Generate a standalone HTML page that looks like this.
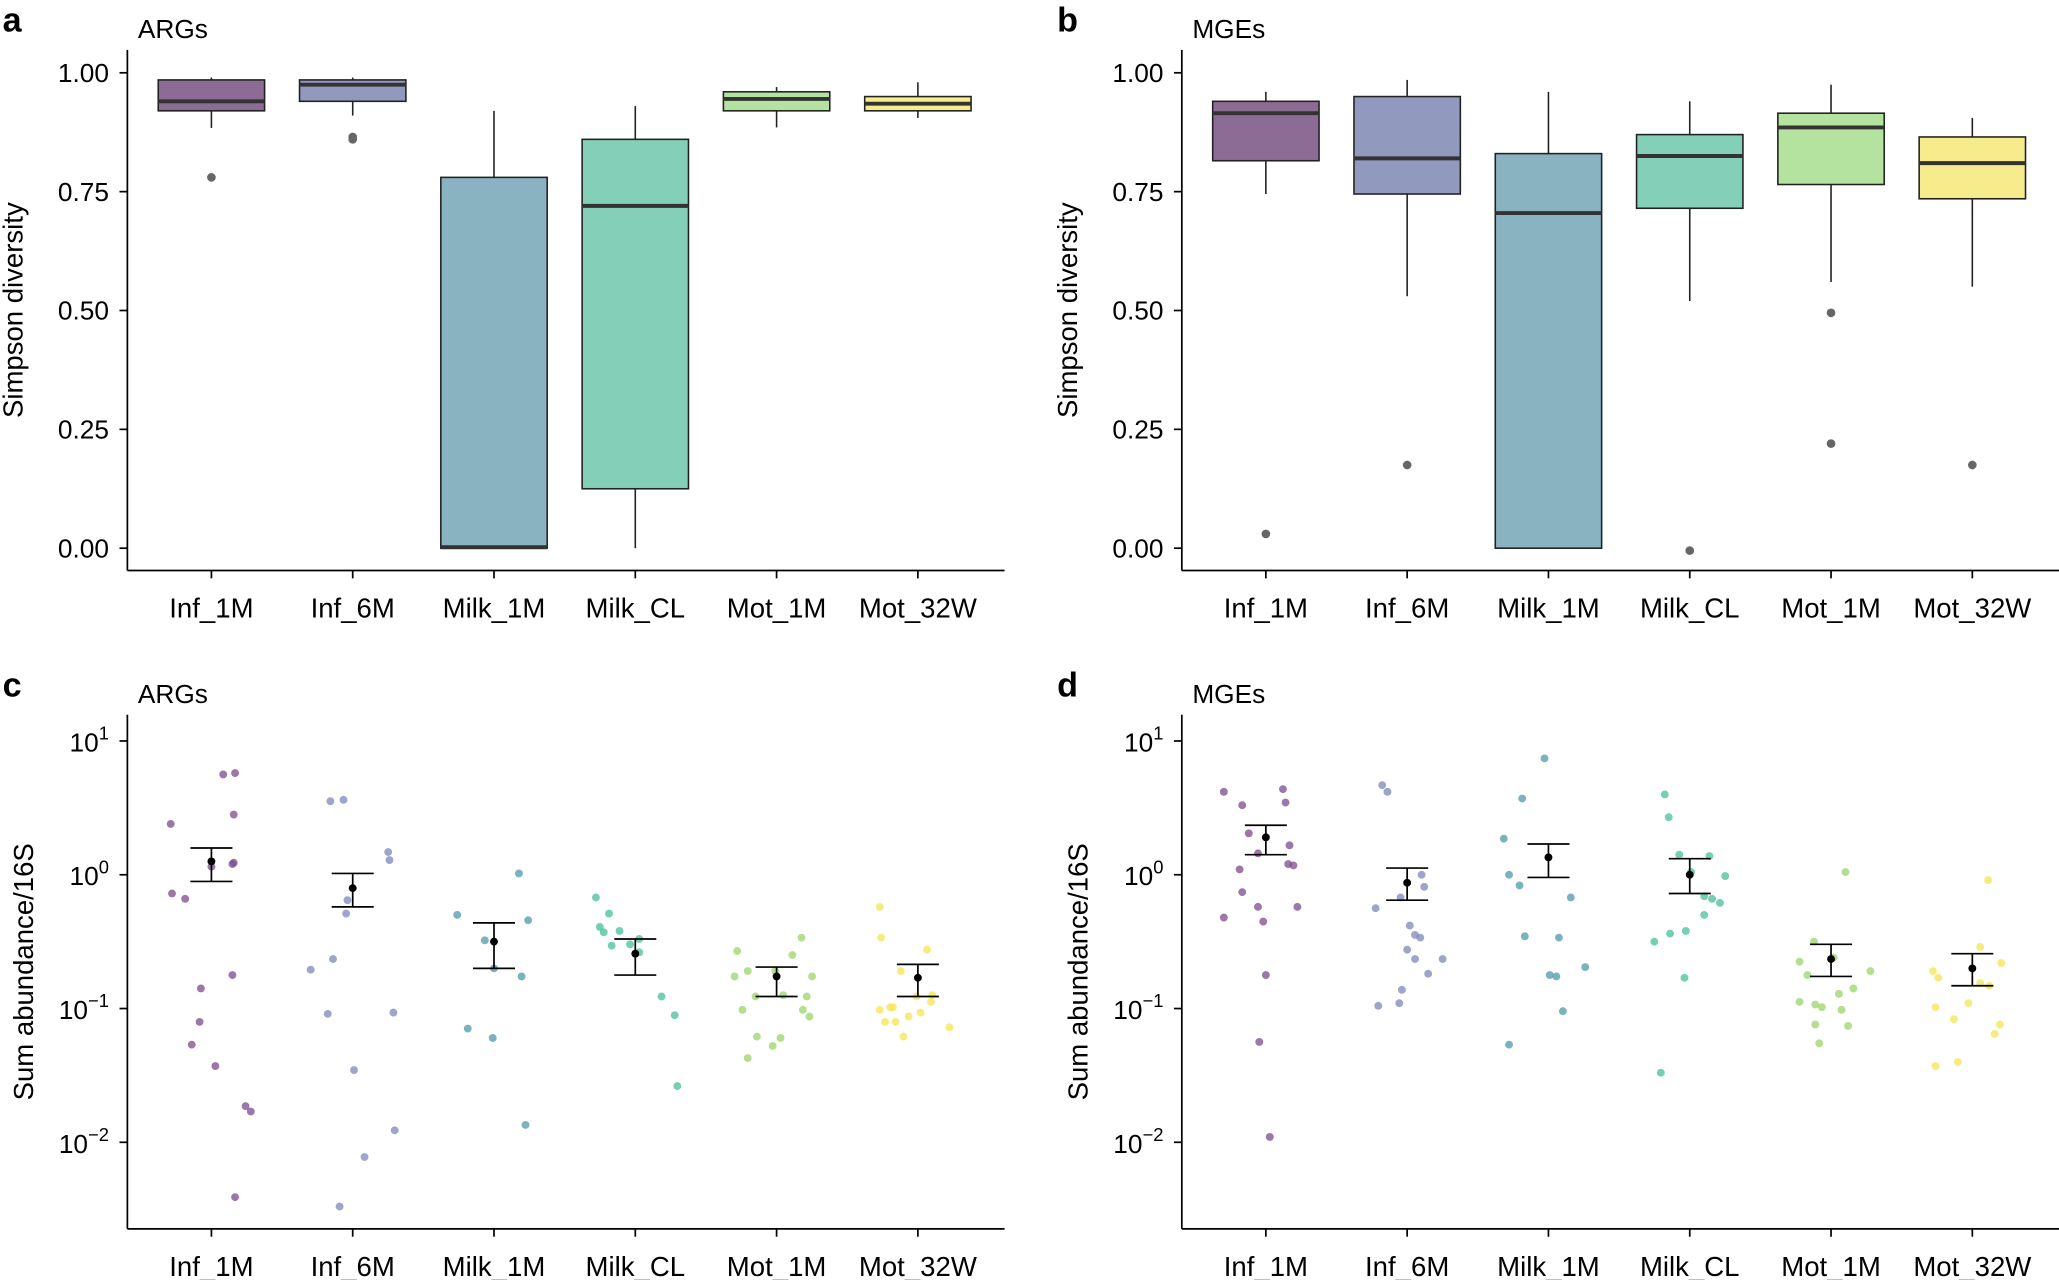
<!DOCTYPE html>
<html><head><meta charset="utf-8"><style>
html,body{margin:0;padding:0;background:#fff;}
svg{display:block;font-family:"Liberation Sans",Arial,sans-serif;}
</style></head><body>
<svg id="fig" width="2059" height="1280" viewBox="0 0 1568 976" preserveAspectRatio="none" xmlns="http://www.w3.org/2000/svg"></svg>
<script>
const categories=["Inf_1M","Inf_6M","Milk_1M","Milk_CL","Mot_1M","Mot_32W"];
const boxFill=["#8c6b94","#9199bf","#89b3c0","#84cfb8","#b4e3a0","#f7ec8b"];
const dotFill=["#7b4a8c","#7d86b8","#4e9aa8","#45bf9c","#9ad46a","#f5e453"];
const linTicks=[0,0.25,0.5,0.75,1.0];
const linTickLabels=["0.00","0.25","0.50","0.75","1.00"];
const logTicks=[1,0,-1,-2];
// box stats: [low, q1, median, q3, high]
const boxA=[[0.884,0.92,0.94,0.985,0.99],[0.91,0.94,0.975,0.985,0.99],[0,0,0.002,0.78,0.92],[0,0.125,0.72,0.86,0.93],[0.885,0.92,0.945,0.96,0.97],[0.905,0.92,0.935,0.95,0.98]];
const outA=[[0.78],[0.86,0.865],[],[],[],[]];
const boxB=[[0.745,0.815,0.915,0.94,0.96],[0.53,0.745,0.82,0.95,0.985],[0,0,0.705,0.83,0.96],[0.52,0.715,0.825,0.87,0.94],[0.56,0.765,0.885,0.915,0.975],[0.55,0.735,0.81,0.865,0.905]];
const outB=[[0.03],[0.175],[],[-0.005],[0.495,0.22],[0.175]];
// log10 abundance per sample
const cLog=[
[.38,-.14,-.18,.06,.08,.09,.75,.76,.45,-.85,-1.10,-1.27,-1.43,-.75,-1.73,-1.77,-2.41],
[.55,.56,-.19,-.29,.17,.11,-.71,-.63,-1.04,-1.46,-2.11,-2.48,-1.03,-1.91],
[-.30,-.70,-.49,-.76,-1.15,-1.22,.01,-.34,-1.87],
[-.17,-.39,-.43,-.53,-.42,-.52,-.48,-.29,-.58,-.91,-1.05,-1.58],
[-.57,-.76,-.72,-.91,-.72,-.90,-.47,-.60,-.91,-1.01,-1.06,-1.01,-1.21,-1.22,-1.37,-1.28,-.76],
[-.24,-.72,-1.01,-.99,-1.21,-1.06,-.91,-.56,-.95,-1.10,-1.10,-.99,-1.03,-1.14,-.47,-.90]];
const cJit=[
[-31,-30,-20,0,16,17,9,18,17,-8,-9,-15,3,16,26,30,18],
[-17,-7,-4,-5,27,28,-32,-15,-19,1,9,-10,31,32],
[-28,0,-7,21,-20,-1,19,26,24],
[-30,-27,-24,-18,-12,-4,3,-20,3,20,30,32],
[-30,-32,-22,-16,-1,5,19,12,23,20,25,-26,-15,3,-22,-3,27],
[-29,-13,-29,-21,-11,-7,-1,7,10,-17,-25,-19,2,24,-28,11]];
const cMean=[.10,-.10,-.50,-.59,-.76,-.77];
const cLo=[-.05,-.24,-.70,-.75,-.91,-.91];
const cHi=[.20,.01,-.36,-.48,-.69,-.67];
const dLog=[
[.62,.52,.64,.54,.31,.22,.16,.04,-.13,-.24,-.32,-.35,.07,.08,-.75,-1.25,-1.96,-.24],
[.67,.62,-.25,-.17,0,-.38,-.09,-.45,-.98,-.96,-.86,-.74,-.63,-.63,-.56,-.47],
[.27,0,-.08,.57,.87,-.47,-.76,-.75,-.17,-.69,-.46,-1.02,-1.27],
[.60,.43,.15,.02,.14,-.01,-.21,-.18,-.30,-.42,-.50,-.44,-.16,-.77,-1.48],
[-.65,-.75,-.50,-.97,-.62,-.89,-1.01,-1.13,.02,-.72,-.95,-.99,-1.26,-1.12,-.85],
[-.72,-.77,-.99,-1.43,-1.40,-.54,-.83,-.66,-1.12,-1.19,-.04,-.96,-.81,-1.08]];
const dJit=[
[-32,-18,13,15,-13,18,-6,-20,-18,-6,-32,-2,21,17,0,-5,3,24],
[-19,-15,-24,-5,11,2,13,6,-22,-6,-4,16,27,6,0,10],
[-34,-30,-22,-20,-3,8,6,1,17,28,-18,11,-30],
[-19,-16,-8,1,15,27,23,17,11,-3,-27,-15,11,-4,-22],
[-24,-18,-13,-12,2,6,8,13,11,30,-24,-7,-9,-12,17],
[-30,-26,-28,-28,-11,6,13,22,21,17,12,-3,6,-14]];
const dMean=[.28,-.06,.13,0,-.63,-.70];
const dLo=[.15,-.19,-.02,-.14,-.76,-.83];
const dHi=[.37,.05,.23,.12,-.52,-.59];

const NS="http://www.w3.org/2000/svg";
const svg=document.getElementById('fig');
function el(tag,attrs,parent,text){const e=document.createElementNS(NS,tag);for(const k in attrs)e.setAttribute(k,attrs[k]);if(text!==undefined)e.textContent=text;(parent||svg).appendChild(e);return e;}

function panel(opt){
  const g=el('g',{});
  
  
  const X=i=>opt.x0+i*opt.step;
  const ax=el('line',{x1:opt.ax,y1:opt.yTop,x2:opt.ax,y2:opt.yBot,stroke:'#000','stroke-width':1.3},g);
  
  const bx=el('line',{x1:opt.ax,y1:opt.yBot,x2:opt.axEnd,y2:opt.yBot,stroke:'#000','stroke-width':1.3},g);
  
  categories.forEach((c,i)=>{
    el('line',{x1:X(i),y1:opt.yBot,x2:X(i),y2:opt.yBot+6,stroke:'#000','stroke-width':1.3},g);
    const t=el('text',{x:X(i),y:opt.yBot+36,'text-anchor':'middle','font-size':21,fill:'#000'},g,c);
    
  });
  const lx=opt.ax-12-opt.yLabOff, ly=(opt.yTop+opt.yBot)/2;
  const lab=el('text',{x:lx,y:ly,'text-anchor':'middle','font-size':21,transform:`rotate(-90 ${lx} ${ly})`},g,opt.ylab);
  
  const L=el('text',{x:opt.ax-97+2,y:opt.yTop-14,'font-size':26,'font-weight':'bold'},g,opt.letter);
  
  const T=el('text',{x:opt.ax+8,y:opt.yTop-9,'font-size':20},g,opt.title);
  
  return {g,X};
}

function boxPanel(ax,letter,title,box,out,name){
  const y0=418,y1=55.5;const Y=v=>y0-(y0-y1)*v;
  const p=panel({name,ax,axEnd:ax+668,yTop:38,yBot:435,x0:ax+64,step:107.6,letter,title,ylab:'Simpson diversity',yLabOff:68});
  linTicks.forEach((t,i)=>{
    el('line',{x1:ax-6,y1:Y(t),x2:ax,y2:Y(t),stroke:'#000','stroke-width':1.3},p.g);
    const tl=el('text',{x:ax-14,y:Y(t)+7,'text-anchor':'end','font-size':20},p.g,linTickLabels[i]);
    
  });
  box.forEach((b,i)=>{
    const cx=p.X(i),w=40.5;
    const bg=el('g',{},p.g);
    
    
    el('line',{x1:cx,y1:Y(b[0]),x2:cx,y2:Y(b[1]),stroke:'#222','stroke-width':1.2},bg);
    el('line',{x1:cx,y1:Y(b[3]),x2:cx,y2:Y(b[4]),stroke:'#222','stroke-width':1.2},bg);
    el('rect',{x:cx-w,y:Y(b[3]),width:2*w,height:Math.max(1,Y(b[1])-Y(b[3])),fill:boxFill[i],stroke:'#222','stroke-width':1.2},bg);
    el('line',{x1:cx-w,y1:Y(b[2]),x2:cx+w,y2:Y(b[2]),stroke:'#333','stroke-width':3},bg);
    out[i].forEach(o=>{const c=el('circle',{cx:cx,cy:Y(o),r:3.3,fill:'#666'},bg);
      });
  });
}

function dotPanel(ax,letter,title,logs,jit,mean,lo,hi,name){
  const Y=e=>667-102*e;
  const p=panel({name,ax,axEnd:ax+668,yTop:545,yBot:937,x0:ax+64,step:107.6,letter,title,ylab:'Sum abundance/16S',yLabOff:60});
  logTicks.forEach(t=>{
    el('line',{x1:ax-6,y1:Y(t),x2:ax,y2:Y(t),stroke:'#000','stroke-width':1.3},p.g);
    const tl=el('text',{x:ax-14,y:Y(t)+8,'text-anchor':'end','font-size':20},p.g);
    
    el('tspan',{},tl,'10');el('tspan',{dy:-9,'font-size':14},tl,String(t).replace('-','\u2212'));
  });
  logs.forEach((arr,i)=>{
    const cx=p.X(i);
    const sg=el('g',{},p.g);
    
    
    arr.forEach((v,j)=>{const c=el('circle',{cx:cx+jit[i][j],cy:Y(v),r:3,fill:dotFill[i],'fill-opacity':0.75},sg);
      });
    const eg=el('g',{stroke:'#000','stroke-width':1.3},sg);
    
    el('line',{x1:cx,y1:Y(hi[i]),x2:cx,y2:Y(lo[i])},eg);
    el('line',{x1:cx-16,y1:Y(hi[i]),x2:cx+16,y2:Y(hi[i])},eg);
    el('line',{x1:cx-16,y1:Y(lo[i]),x2:cx+16,y2:Y(lo[i])},eg);
    const m=el('circle',{cx:cx,cy:Y(mean[i]),r:3,fill:'#000',stroke:'none'},sg);
    
  });
}

boxPanel(97,'a','ARGs',boxA,outA,'panel-a-args-simpson');
boxPanel(900,'b','MGEs',boxB,outB,'panel-b-mges-simpson');
dotPanel(97,'c','ARGs',cLog,cJit,cMean,cLo,cHi,'panel-c-args-abundance');
dotPanel(900,'d','MGEs',dLog,dJit,dMean,dLo,dHi,'panel-d-mges-abundance');
</script>
</body></html>
